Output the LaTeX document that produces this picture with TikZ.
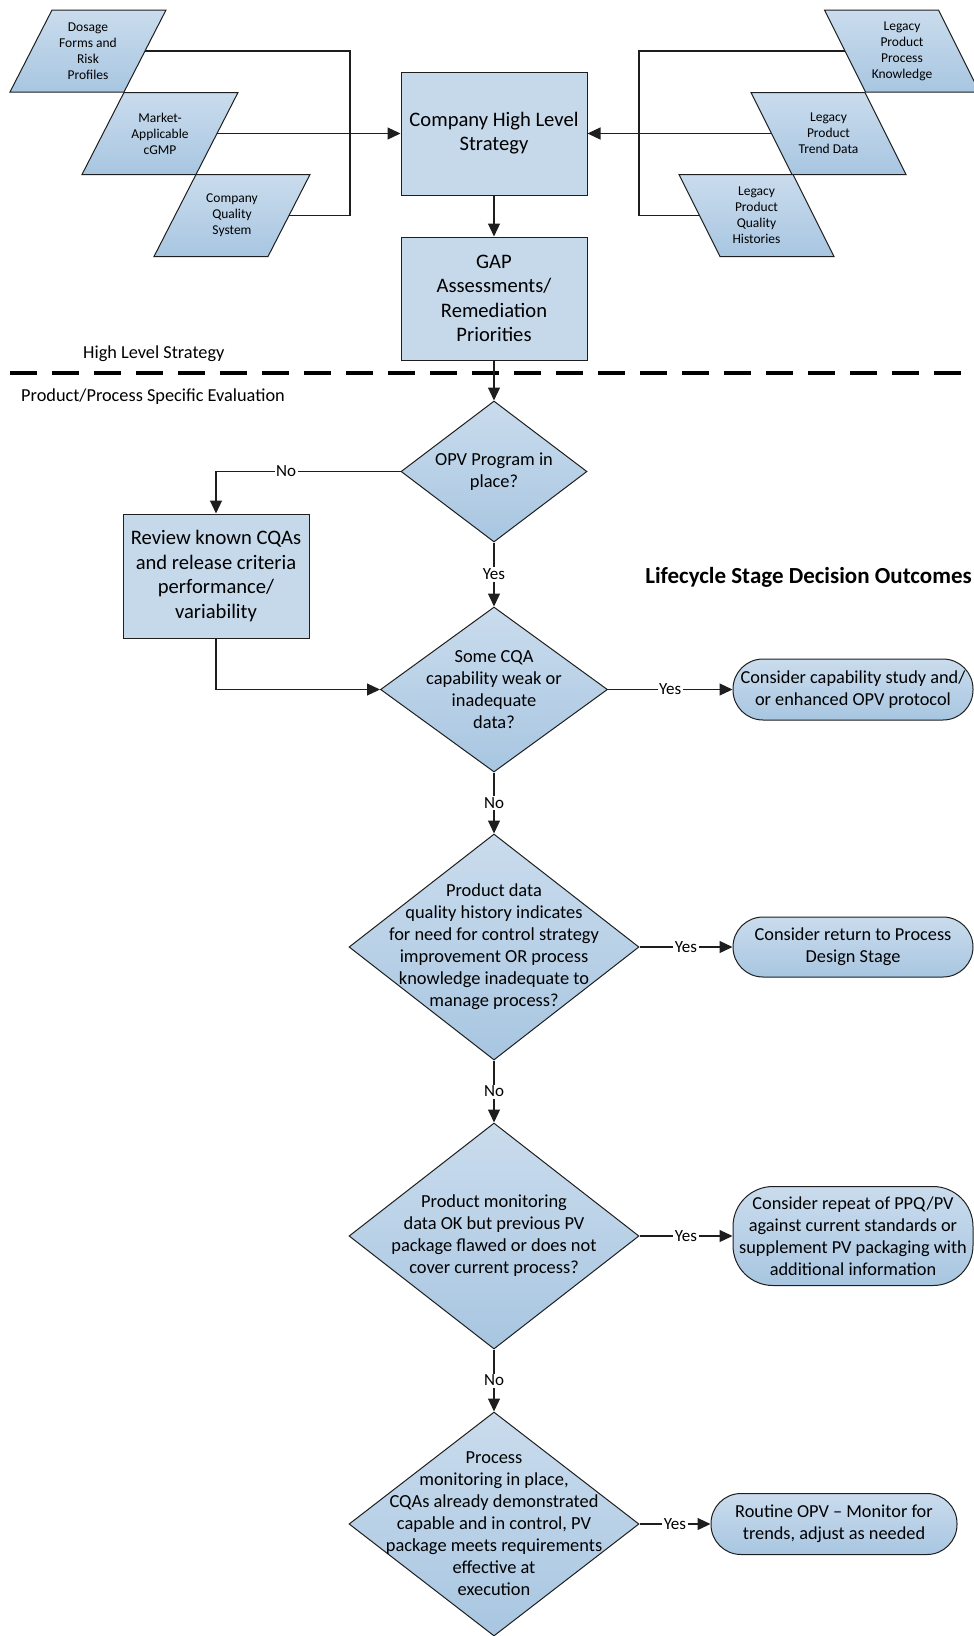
\documentclass[tikz,border=0pt]{standalone}
\usepackage{fontspec}
\setmainfont{Carlito}
\usetikzlibrary{shapes.geometric,arrows.meta}
\definecolor{boxtop}{RGB}{202,220,237}
\definecolor{boxbot}{RGB}{168,198,225}
\definecolor{boxflat}{RGB}{198,217,234}
\definecolor{linec}{RGB}{30,30,30}
\tikzset{
  fillgrad/.style={top color=boxtop, bottom color=boxbot},
  box/.style={draw=linec, line width=1pt, fill=boxflat, align=center, inner sep=0pt},
  dec/.style={diamond, draw=linec, line width=1pt, fillgrad, inner sep=0pt},
  dtext/.style={align=center, inner sep=0pt, font=\fontsize{18.4}{22}\selectfont},
  pill/.style={draw=linec, line width=1pt, fillgrad, align=center, inner sep=0pt, font=\fontsize{18.3}{22}\selectfont},
  ptext/.style={align=center, inner sep=0pt, minimum width=114pt, minimum height=82pt, font=\fontsize{13.5}{16}\selectfont},
  conn/.style={draw=linec, line width=1.2pt},
  arr/.style={conn, -{Triangle[length=13pt,width=12pt]}},
  lbl/.style={fill=white, inner sep=1.5pt, font=\fontsize{17}{18}\selectfont},
  sect/.style={inner sep=0pt, font=\fontsize{18.3}{20}\selectfont},
}
\newcommand{\paranode}[5]{%
  \path[fillgrad, draw=linec, line width=1pt]
    ({#2-57+(#4)}, {#3-41}) -- ({#2+57+(#4)}, {#3-41}) --
    ({#2+57-(#4)}, {#3+41}) -- ({#2-57-(#4)}, {#3+41}) -- cycle;
  \node[ptext] (#1) at (#2,#3) {#5};
}
\begin{document}
\begin{tikzpicture}[x=1pt,y=-1pt]
\useasboundingbox (0,0) rectangle (974,1636);

% left inputs
\paranode{p1}{88}{51}{21}{Dosage\\Forms and\\Risk\\Profiles}
\paranode{p2}{160}{133.5}{21}{Market-\\Applicable\\cGMP}
\paranode{p3}{232}{215.5}{21}{Company\\Quality\\System}
% right inputs
\paranode{p4}{902}{51}{-20.5}{Legacy\\Product\\Process\\Knowledge}
\paranode{p5}{828.5}{133.5}{-20.5}{Legacy\\Product\\Trend Data}
\paranode{p6}{756.5}{215.5}{-20.5}{Legacy\\Product\\Quality\\Histories}

% main boxes
\node[box, minimum width=186pt, minimum height=123pt, font=\fontsize{20.6}{24}\selectfont] (chs) at (494,133.5) {Company High Level\\Strategy};
\node[box, minimum width=186pt, minimum height=123pt, font=\fontsize{20.6}{24.5}\selectfont] (gap) at (494,298.5) {GAP\\Assessments/\\Remediation\\Priorities};

\coordinate (jl) at (350,133.5);
\coordinate (jr) at (639,133.5);
\draw[conn] (p1.east) -| (jl) |- (p3.east);
\draw[conn] (p4.west) -| (jr) |- (p6.west);
\draw[arr] (p2.east) -- (chs.west);
\draw[arr] (p5.west) -- (chs.east);
\draw[arr] (chs.south) -- (gap.north);

% separator
\draw[line width=4pt, dash pattern=on 27pt off 15pt] (10,373) -- (974,373);
\node[sect, anchor=west] (hls) at (83,354) {High Level Strategy};
\node[sect, anchor=west] (pps) at (21,397) {Product/Process Specific Evaluation};

% decisions
\node[dec, minimum width=186pt, minimum height=141pt] (d1) at (494,471.5) {};
\node[dtext] (d1t) at (d1.center) {OPV Program in\\place?};
\node[dec, minimum width=227pt, minimum height=165pt] (d2) at (494,689.5) {};
\node[dtext] (d2t) at (d2.center) {Some CQA\\capability weak or\\inadequate\\data?};
\node[dec, minimum width=290pt, minimum height=226pt] (d3) at (494,947) {};
\node[dtext] (d3t) at (d3.center) {Product data\\quality history indicates\\for need for control strategy\\improvement OR process\\knowledge inadequate to\\manage process?};
\node[dec, minimum width=290pt, minimum height=226pt] (d4) at (494,1236) {};
\node[dtext] (d4t) at (d4.center) {Product monitoring\\data OK but previous PV\\package flawed or does not\\cover current process?};
\node[dec, minimum width=290pt, minimum height=224pt] (d5) at (494,1524) {};
\node[dtext] (d5t) at (d5.center) {Process\\monitoring in place,\\CQAs already demonstrated\\capable and in control, PV\\package meets requirements\\effective at\\execution};

\node[box, minimum width=186pt, minimum height=124pt, font=\fontsize{20.6}{24.5}\selectfont] (rev) at (216,576) {Review known CQAs\\and release criteria\\performance/\\variability};

\node[inner sep=0pt, anchor=east, font=\bfseries\fontsize{23}{24}\selectfont] (lsd) at (972,577) {Lifecycle Stage Decision Outcomes};

% outcomes
\node[pill, rounded corners=30pt, minimum width=240pt, minimum height=61pt] (o1) at (853,689.5) {Consider capability study and/\\or enhanced OPV protocol};
\node[pill, rounded corners=30pt, minimum width=240pt, minimum height=60pt] (o2) at (853,947) {Consider return to Process\\Design Stage};
\node[pill, rounded corners=40pt, minimum width=240pt, minimum height=99pt] (o3) at (853,1236) {Consider repeat of PPQ/PV\\against current standards or\\supplement PV packaging with\\additional information};
\node[pill, rounded corners=30pt, minimum width=246pt, minimum height=61pt] (o4) at (834,1524) {Routine OPV -- Monitor for\\trends, adjust as needed};

% flow connectors
\draw[arr] (gap.south) -- (d1.north);
\draw[arr] (d1.west) -| node[lbl, pos=0.31] {No} (rev.north);
\draw[arr] (d1.south) -- node[lbl] {Yes} (d2.north);
\draw[arr] (rev.south) |- (d2.west);
\draw[arr] (d2.east) -- node[lbl] {Yes} (o1.west);
\draw[arr] (d2.south) -- node[lbl] {No} (d3.north);
\draw[arr] (d3.east) -- node[lbl] {Yes} (o2.west);
\draw[arr] (d3.south) -- node[lbl] {No} (d4.north);
\draw[arr] (d4.east) -- node[lbl] {Yes} (o3.west);
\draw[arr] (d4.south) -- node[lbl] {No} (d5.north);
\draw[arr] (d5.east) -- node[lbl] {Yes} (o4.west);
\end{tikzpicture}
\end{document}
